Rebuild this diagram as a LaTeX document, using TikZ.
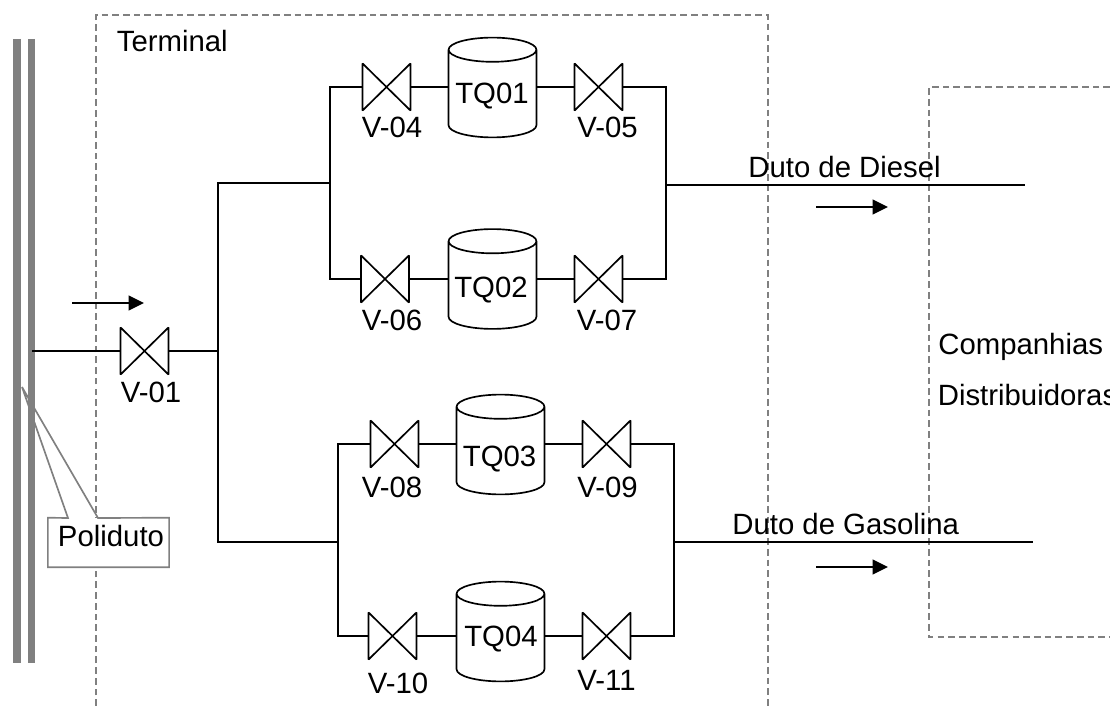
\documentclass[tikz,border=0pt]{standalone}
\usepackage{fontspec}
\setmainfont{Liberation Sans}
\usetikzlibrary{arrows.meta,shapes.geometric}
\tikzset{
  linha/.style={black,line width=0.95pt},
  limite/.style={gray,line width=0.8pt,dash pattern=on 3.8pt off 2.3pt},
  contorno/.style={gray,line width=0.95pt},
  duto/.style={gray,line width=4.1pt},
  fluxo/.style={black,line width=0.95pt,-{Triangle[length=8.8pt,width=8.5pt]}},
  valvula/.style={rectangle,minimum width=26.9pt,minimum height=26.4pt,inner sep=0pt},
  rotulo/.style={inner sep=0pt,font=\fontsize{16.7}{18}\selectfont},
  tanque/.style={rotulo,draw=black,line width=0.95pt,cylinder,shape border rotate=90,shape aspect=0.33,
    anchor=shape center,minimum width=50pt,minimum height=56.8pt}
}
\begin{document}
\begin{tikzpicture}[x=0.02cm,y=-0.02cm]
  \useasboundingbox (0,0) rectangle (1110,706);
  \draw [limite] (96,706) -- (96,15) -- (768,15) -- (768,706);
  \draw [limite] (1110,87) -- (929,87) -- (929,637) -- (1110,637);
  \draw [duto] (17,39) -- (17,662.5);
  \draw [duto] (31.3,39) -- (31.3,662.5);
  \node [valvula] (v01) at (144.5,351) {};
  \node [valvula] (v04) at (386.5,87) {};
  \node [valvula] (v05) at (598.5,87) {};
  \node [valvula] (v06) at (385,279) {};
  \node [valvula] (v07) at (598.5,279) {};
  \node [valvula] (v08) at (394.5,444) {};
  \node [valvula] (v09) at (606.5,444) {};
  \node [valvula] (v10) at (392.5,636) {};
  \node [valvula] (v11) at (606.5,636) {};
  \foreach \v in {v01,v04,v05,v06,v07,v08,v09,v10,v11}
    \draw [linha,line join=bevel] (\v.south west) -- (\v.north east) -- (\v.south east) -- (\v.north west) -- cycle;
  \node [tanque] (tq01) at (492.5,87.5) {\phantom{TQ01}};
  \node [tanque] (tq02) at (492.5,279) {\phantom{TQ02}};
  \node [tanque] (tq03) at (500.5,444.5) {\phantom{TQ03}};
  \node [tanque] (tq04) at (500.5,631.5) {\phantom{TQ04}};
  \node [rotulo,anchor=base] (ltq01) at (492,104) {TQ01};
  \node [rotulo,anchor=base] (ltq02) at (491,297) {TQ02};
  \node [rotulo,anchor=base] (ltq03) at (499.6,466) {TQ03};
  \node [rotulo,anchor=base] (ltq04) at (501,646) {TQ04};
  \coordinate (ent) at (32,351);
  \coordinate (nA) at (218,351);
  \coordinate (nB) at (218,183);
  \coordinate (nC) at (218,542);
  \coordinate (nD) at (330,183);
  \coordinate (nE) at (338,542);
  \coordinate (nF) at (666,185);
  \coordinate (nG) at (674,542);
  \coordinate (sD) at (1025,185);
  \coordinate (sG) at (1033,542);
  \draw [linha] (ent) -- (v01.west);
  \draw [linha] (v01.east) -- (nA);
  \draw [linha] (nD) -- (nB) -- (nC) -- (nE);
  \draw [linha] (v04.east) -- (v04.east -| tq01.west);
  \draw [linha] (v05.west -| tq01.east) -- (v05.west);
  \draw [linha] (v04.west) -| (nD) |- (v06.west);
  \draw [linha] (v06.east) -- (v06.east -| tq02.west);
  \draw [linha] (v07.west -| tq02.east) -- (v07.west);
  \draw [linha] (v05.east) -| (nF) |- (v07.east);
  \draw [linha] (nF) -- (sD);
  \draw [linha] (v08.east) -- (v08.east -| tq03.west);
  \draw [linha] (v09.west -| tq03.east) -- (v09.west);
  \draw [linha] (v08.west) -| (nE) |- (v10.west);
  \draw [linha] (v10.east) -- (v10.east -| tq04.west);
  \draw [linha] (v11.west -| tq04.east) -- (v11.west);
  \draw [linha] (v09.east) -| (nG) |- (v11.east);
  \draw [linha] (nG) -- (sG);
  \coordinate (f1a) at (72,303);
  \coordinate (f1b) at (144,303);
  \coordinate (f2a) at (816,207);
  \coordinate (f2b) at (888,207);
  \coordinate (f3a) at (816,567);
  \coordinate (f3b) at (888,567);
  \draw [fluxo] (f1a) -- (f1b);
  \draw [fluxo] (f2a) -- (f2b);
  \draw [fluxo] (f3a) -- (f3b);
  \node [rotulo] (lv01) at (151,392) {V-01};
  \node [rotulo] (lv04) at (392,127) {V-04};
  \node [rotulo] (lv05) at (607.5,127.5) {V-05};
  \node [rotulo] (lv06) at (392,320) {V-06};
  \node [rotulo] (lv07) at (607,320) {V-07};
  \node [rotulo] (lv08) at (392,487) {V-08};
  \node [rotulo] (lv09) at (607.5,487) {V-09};
  \node [rotulo] (lv10) at (398,683.5) {V-10};
  \node [rotulo] (lv11) at (606.5,680) {V-11};
  \node [rotulo,anchor=base west] (terminal) at (116.5,52) {Terminal};
  \node [rotulo,anchor=base west] (comp) at (938,354) {Companhias};
  \node [rotulo,anchor=base west] (dist) at (937.5,405) {Distribuidoras};
  \node [rotulo,anchor=base west] (diesel) at (748,178) {Duto de Diesel};
  \node [rotulo,anchor=base west] (gasolina) at (732,534) {Duto de Gasolina};
  \coordinate (ponta) at (22,387);
  \coordinate (pe1) at (68,518);
  \coordinate (pe2) at (98,518);
  \node [fill=white,minimum width=68.6pt,minimum height=27.8pt,inner sep=0pt] (caixa) at (108.5,542.5) {};
  \node [rotulo] (poliduto) at (111,536.5) {Poliduto};
  \draw [contorno] (ponta) -- (pe1) -- (caixa.north west) -- (caixa.south west) -- (caixa.south east) -- (caixa.north east) -- (pe2) -- cycle;
\end{tikzpicture}
\end{document}
